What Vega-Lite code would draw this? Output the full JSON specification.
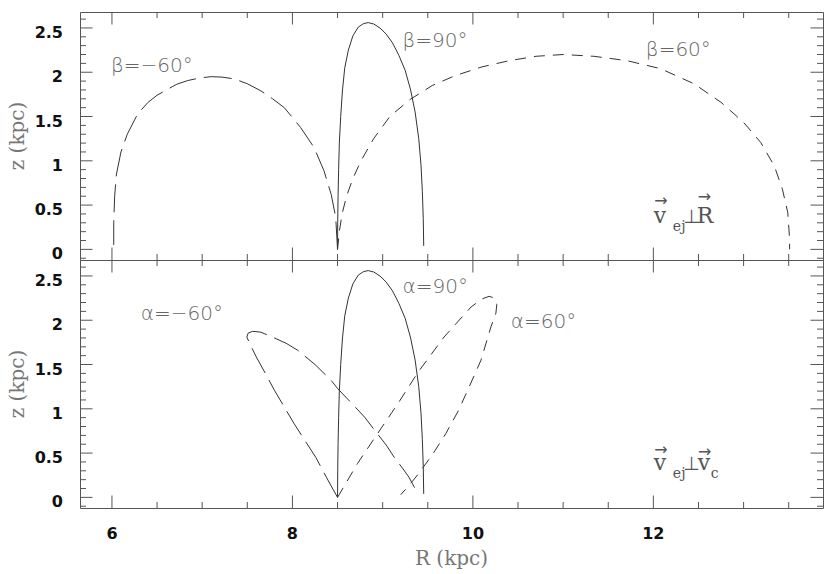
{
"$schema":"https://vega.github.io/schema/vega-lite/v6.json",
"padding":{"left":7,"top":11,"right":5,"bottom":0},
"background":"white",
"config":{
 "view":{"stroke":"#555","strokeWidth":1}
},
"datasets":{
 "b90":[{"R":8.5,"z":0},{"R":8.502,"z":0.3},{"R":8.506,"z":0.6},{"R":8.512,"z":0.9},{"R":8.52,"z":1.2},{"R":8.535,"z":1.5},{"R":8.555,"z":1.8},{"R":8.58,"z":2.05},{"R":8.62,"z":2.25},{"R":8.67,"z":2.41},{"R":8.73,"z":2.51},{"R":8.79,"z":2.55},{"R":8.84,"z":2.56},{"R":8.9,"z":2.545},{"R":8.97,"z":2.5},{"R":9.04,"z":2.43},{"R":9.11,"z":2.33},{"R":9.18,"z":2.19},{"R":9.25,"z":2.02},{"R":9.31,"z":1.8},{"R":9.36,"z":1.55},{"R":9.4,"z":1.25},{"R":9.425,"z":0.95},{"R":9.44,"z":0.65},{"R":9.45,"z":0.35},{"R":9.455,"z":0.04}],
 "bm60":[{"R":8.5,"z":0},{"R":8.48,"z":0.36},{"R":8.43,"z":0.62},{"R":8.35,"z":0.887},{"R":8.24,"z":1.15},{"R":8.09,"z":1.377},{"R":7.91,"z":1.6},{"R":7.78,"z":1.7},{"R":7.65,"z":1.79},{"R":7.5,"z":1.87},{"R":7.355,"z":1.925},{"R":7.22,"z":1.945},{"R":7.1,"z":1.95},{"R":6.97,"z":1.935},{"R":6.84,"z":1.906},{"R":6.72,"z":1.865},{"R":6.62,"z":1.81},{"R":6.5,"z":1.74},{"R":6.4,"z":1.66},{"R":6.285,"z":1.53},{"R":6.17,"z":1.3},{"R":6.1,"z":1.1},{"R":6.05,"z":0.85},{"R":6.03,"z":0.6},{"R":6.02,"z":0.3},{"R":6.02,"z":0.05}],
 "b60":[{"R":8.5,"z":0},{"R":8.52,"z":0.2},{"R":8.55,"z":0.4},{"R":8.6,"z":0.6},{"R":8.67,"z":0.8},{"R":8.76,"z":1.0},{"R":8.9,"z":1.25},{"R":9.08,"z":1.5},{"R":9.3,"z":1.69},{"R":9.55,"z":1.85},{"R":9.8,"z":1.96},{"R":10.1,"z":2.06},{"R":10.4,"z":2.13},{"R":10.7,"z":2.18},{"R":11.0,"z":2.2},{"R":11.34,"z":2.18},{"R":11.71,"z":2.13},{"R":12.08,"z":2.04},{"R":12.45,"z":1.87},{"R":12.75,"z":1.66},{"R":13.0,"z":1.434},{"R":13.19,"z":1.207},{"R":13.34,"z":0.943},{"R":13.43,"z":0.68},{"R":13.49,"z":0.414},{"R":13.51,"z":0.113},{"R":13.51,"z":0}],
 "am60":[{"R":8.5,"z":0},{"R":8.38,"z":0.22},{"R":8.26,"z":0.45},{"R":8.14,"z":0.64},{"R":8.02,"z":0.83},{"R":7.91,"z":1.02},{"R":7.8,"z":1.21},{"R":7.7,"z":1.4},{"R":7.6,"z":1.585},{"R":7.53,"z":1.73},{"R":7.495,"z":1.81},{"R":7.51,"z":1.855},{"R":7.56,"z":1.875},{"R":7.65,"z":1.865},{"R":7.8,"z":1.8},{"R":7.93,"z":1.74},{"R":8.06,"z":1.66},{"R":8.25,"z":1.5},{"R":8.43,"z":1.32},{"R":8.5,"z":1.23},{"R":8.65,"z":1.07},{"R":8.8,"z":0.906},{"R":8.94,"z":0.72},{"R":9.04,"z":0.59},{"R":9.13,"z":0.45},{"R":9.22,"z":0.33},{"R":9.29,"z":0.23},{"R":9.37,"z":0.08}],
 "a60":[{"R":8.5,"z":0},{"R":8.72,"z":0.38},{"R":8.93,"z":0.7},{"R":9.17,"z":1.06},{"R":9.39,"z":1.41},{"R":9.68,"z":1.81},{"R":9.98,"z":2.15},{"R":10.1,"z":2.24},{"R":10.18,"z":2.27},{"R":10.24,"z":2.25},{"R":10.265,"z":2.18},{"R":10.255,"z":2.08},{"R":10.2,"z":1.925},{"R":10.09,"z":1.55},{"R":9.96,"z":1.25},{"R":9.84,"z":0.98},{"R":9.7,"z":0.72},{"R":9.55,"z":0.48},{"R":9.4,"z":0.27},{"R":9.28,"z":0.12},{"R":9.2,"z":0.03}],
 "labTop":[{"R":5.99,"z":2.008,"t":"β=−60°"},{"R":9.22,"z":2.29,"t":"β=90°"},{"R":11.917,"z":2.18,"t":"β=60°"}],
 "labBot":[{"R":6.32,"z":2.0,"t":"α=−60°"},{"R":9.22,"z":2.307,"t":"α=90°"},{"R":10.42,"z":1.91,"t":"α=60°"}],
 "annTop":[{"R":12.005,"z":0.298,"t":"v","part":"main"},{"R":12.482,"z":0.298,"t":"R","part":"main"},{"R":12.33,"z":0.298,"t":"⊥","part":"perp"},{"R":12.216,"z":0.207,"t":"ej","part":"sub"},{"R":12.083,"z":0.547,"t":"→","part":"arrow"},{"R":12.565,"z":0.592,"t":"→","part":"arrow"}],
 "annBot":[{"R":12.005,"z":0.314,"t":"v","part":"main"},{"R":12.493,"z":0.314,"t":"v","part":"main"},{"R":12.33,"z":0.314,"t":"⊥","part":"perp"},{"R":12.216,"z":0.223,"t":"ej","part":"sub"},{"R":12.637,"z":0.223,"t":"c","part":"sub"},{"R":12.083,"z":0.54,"t":"→","part":"arrow"},{"R":12.57,"z":0.517,"t":"→","part":"arrow"}],
 "xt":[{"v":6,"k":"major"},{"v":6.5,"k":"minor"},{"v":7,"k":"minor"},{"v":7.5,"k":"minor"},{"v":8,"k":"major"},{"v":8.5,"k":"minor"},{"v":9,"k":"minor"},{"v":9.5,"k":"minor"},{"v":10,"k":"major"},{"v":10.5,"k":"minor"},{"v":11,"k":"minor"},{"v":11.5,"k":"minor"},{"v":12,"k":"major"},{"v":12.5,"k":"minor"},{"v":13,"k":"minor"},{"v":13.5,"k":"minor"}],
 "yt":[{"v":-0.1,"k":"minor"},{"v":0,"k":"major"},{"v":0.1,"k":"minor"},{"v":0.2,"k":"minor"},{"v":0.3,"k":"minor"},{"v":0.4,"k":"minor"},{"v":0.5,"k":"major"},{"v":0.6,"k":"minor"},{"v":0.7,"k":"minor"},{"v":0.8,"k":"minor"},{"v":0.9,"k":"minor"},{"v":1,"k":"major"},{"v":1.1,"k":"minor"},{"v":1.2,"k":"minor"},{"v":1.3,"k":"minor"},{"v":1.4,"k":"minor"},{"v":1.5,"k":"major"},{"v":1.6,"k":"minor"},{"v":1.7,"k":"minor"},{"v":1.8,"k":"minor"},{"v":1.9,"k":"minor"},{"v":2,"k":"major"},{"v":2.1,"k":"minor"},{"v":2.2,"k":"minor"},{"v":2.3,"k":"minor"},{"v":2.4,"k":"minor"},{"v":2.5,"k":"major"},{"v":2.6,"k":"minor"}],
 "ylab":[{"v":0},{"v":0.5},{"v":1},{"v":1.5},{"v":2},{"v":2.5}],
 "xlab":[{"v":6},{"v":8},{"v":10},{"v":12}],
 "ztitle":[{"t":"z (kpc)"}],
 "rtitle":[{"t":"R (kpc)"}]
},
"vconcat":[
 {
  "width":743,"height":248,
  "layer":[
   {"data":{"name":"b90"},"mark":{"type":"line","stroke":"#333","strokeWidth":1},
    "encoding":{
     "x":{"field":"R","type":"quantitative","scale":{"domain":[5.646,13.88],"nice":false,"zero":false},"axis":null},
     "y":{"field":"z","type":"quantitative","scale":{"domain":[-0.12,2.68],"nice":false,"zero":false},"axis":null},
     "order":{"value":null}}},
   {"data":{"name":"bm60"},"mark":{"type":"line","stroke":"#333","strokeWidth":1,"strokeDash":[28,8]},
    "encoding":{"x":{"field":"R","type":"quantitative","axis":null},"y":{"field":"z","type":"quantitative","axis":null},"order":{"value":null}}},
   {"data":{"name":"b60"},"mark":{"type":"line","stroke":"#333","strokeWidth":1,"strokeDash":[11,8]},
    "encoding":{"x":{"field":"R","type":"quantitative","axis":null},"y":{"field":"z","type":"quantitative","axis":null},"order":{"value":null}}},
   {"data":{"name":"labTop"},"mark":{"type":"text","font":"DejaVu Sans","fontSize":20,"fontWeight":200,"color":"#666","align":"left","baseline":"alphabetic"},
    "encoding":{"x":{"field":"R","type":"quantitative","axis":null},"y":{"field":"z","type":"quantitative","axis":null},"text":{"field":"t"}}},
   {"data":{"name":"annTop"},"transform":[{"filter":"datum.part==='main'"}],"mark":{"type":"text","font":"DejaVu Serif","fontSize":22,"color":"#555","align":"left","baseline":"alphabetic"},
    "encoding":{"x":{"field":"R","type":"quantitative","axis":null},"y":{"field":"z","type":"quantitative","axis":null},"text":{"field":"t"}}},
   {"data":{"name":"annTop"},"transform":[{"filter":"datum.part==='perp'"}],"mark":{"type":"text","font":"DejaVu Sans","fontSize":19,"color":"#555","align":"left","baseline":"alphabetic"},
    "encoding":{"x":{"field":"R","type":"quantitative","axis":null},"y":{"field":"z","type":"quantitative","axis":null},"text":{"field":"t"}}},
   {"data":{"name":"annTop"},"transform":[{"filter":"datum.part==='sub'"}],"mark":{"type":"text","font":"DejaVu Serif","fontSize":14,"color":"#555","align":"left","baseline":"alphabetic"},
    "encoding":{"x":{"field":"R","type":"quantitative","axis":null},"y":{"field":"z","type":"quantitative","axis":null},"text":{"field":"t"}}},
   {"data":{"name":"annTop"},"transform":[{"filter":"datum.part==='arrow'"}],"mark":{"type":"text","font":"DejaVu Sans","fontSize":16,"color":"#555","align":"center","baseline":"middle"},
    "encoding":{"x":{"field":"R","type":"quantitative","axis":null},"y":{"field":"z","type":"quantitative","axis":null},"text":{"field":"t"}}},
   {"data":{"name":"xt"},"mark":{"type":"tick","orient":"vertical","thickness":1,"color":"#555","opacity":1,"clip":true},
    "encoding":{"x":{"field":"v","type":"quantitative","axis":null},"y":{"datum":2.68,"type":"quantitative","axis":null},"size":{"field":"k","type":"ordinal","scale":{"domain":["minor","major"],"range":[12,25]},"legend":null}}},
   {"data":{"name":"xt"},"mark":{"type":"tick","orient":"vertical","thickness":1,"color":"#555","opacity":1,"clip":true},
    "encoding":{"x":{"field":"v","type":"quantitative","axis":null},"y":{"datum":-0.12,"type":"quantitative","axis":null},"size":{"field":"k","type":"ordinal","scale":{"domain":["minor","major"],"range":[12,25]},"legend":null}}},
   {"data":{"name":"yt"},"mark":{"type":"tick","orient":"horizontal","thickness":1,"color":"#555","opacity":1,"clip":true},
    "encoding":{"y":{"field":"v","type":"quantitative","axis":null},"x":{"datum":5.646,"type":"quantitative","axis":null},"size":{"field":"k","type":"ordinal","scale":{"domain":["minor","major"],"range":[12,24]},"legend":null}}},
   {"data":{"name":"yt"},"mark":{"type":"tick","orient":"horizontal","thickness":1,"color":"#555","opacity":1,"clip":true},
    "encoding":{"y":{"field":"v","type":"quantitative","axis":null},"x":{"datum":13.88,"type":"quantitative","axis":null},"size":{"field":"k","type":"ordinal","scale":{"domain":["minor","major"],"range":[12,24]},"legend":null}}},
   {"data":{"name":"ylab"},"mark":{"type":"text","font":"DejaVu Sans","fontWeight":"bold","fontSize":16,"color":"#111","align":"right","baseline":"middle","dx":-17,"dy":5},
    "encoding":{"y":{"field":"v","type":"quantitative","axis":null},"x":{"datum":5.646,"type":"quantitative","axis":null},"text":{"field":"v","type":"quantitative","format":"~g"}}},
   {"data":{"name":"ztitle"},"mark":{"type":"text","font":"DejaVu Serif","fontSize":20,"color":"#777","align":"center","baseline":"middle","angle":270},
    "encoding":{"x":{"datum":4.959,"type":"quantitative","scale":{"domain":[5.646,13.88],"nice":false,"zero":false},"axis":null},"y":{"datum":1.28,"type":"quantitative","scale":{"domain":[-0.12,2.68],"nice":false,"zero":false},"axis":null},"text":{"field":"t"}}}
  ]
 },
 {
  "width":743,"height":248,
  "layer":[
   {"data":{"name":"b90"},"mark":{"type":"line","stroke":"#333","strokeWidth":1},
    "encoding":{
     "x":{"field":"R","type":"quantitative","scale":{"domain":[5.646,13.88],"nice":false,"zero":false},"axis":null},
     "y":{"field":"z","type":"quantitative","scale":{"domain":[-0.12,2.68],"nice":false,"zero":false},"axis":null},
     "order":{"value":null}}},
   {"data":{"name":"am60"},"mark":{"type":"line","stroke":"#333","strokeWidth":1,"strokeDash":[28,8]},
    "encoding":{"x":{"field":"R","type":"quantitative","axis":null},"y":{"field":"z","type":"quantitative","axis":null},"order":{"value":null}}},
   {"data":{"name":"a60"},"mark":{"type":"line","stroke":"#333","strokeWidth":1,"strokeDash":[11,8]},
    "encoding":{"x":{"field":"R","type":"quantitative","axis":null},"y":{"field":"z","type":"quantitative","axis":null},"order":{"value":null}}},
   {"data":{"name":"labBot"},"mark":{"type":"text","font":"DejaVu Sans","fontSize":20,"fontWeight":200,"color":"#666","align":"left","baseline":"alphabetic"},
    "encoding":{"x":{"field":"R","type":"quantitative","axis":null},"y":{"field":"z","type":"quantitative","axis":null},"text":{"field":"t"}}},
   {"data":{"name":"annBot"},"transform":[{"filter":"datum.part==='main'"}],"mark":{"type":"text","font":"DejaVu Serif","fontSize":22,"color":"#555","align":"left","baseline":"alphabetic"},
    "encoding":{"x":{"field":"R","type":"quantitative","axis":null},"y":{"field":"z","type":"quantitative","axis":null},"text":{"field":"t"}}},
   {"data":{"name":"annBot"},"transform":[{"filter":"datum.part==='perp'"}],"mark":{"type":"text","font":"DejaVu Sans","fontSize":19,"color":"#555","align":"left","baseline":"alphabetic"},
    "encoding":{"x":{"field":"R","type":"quantitative","axis":null},"y":{"field":"z","type":"quantitative","axis":null},"text":{"field":"t"}}},
   {"data":{"name":"annBot"},"transform":[{"filter":"datum.part==='sub'"}],"mark":{"type":"text","font":"DejaVu Serif","fontSize":14,"color":"#555","align":"left","baseline":"alphabetic"},
    "encoding":{"x":{"field":"R","type":"quantitative","axis":null},"y":{"field":"z","type":"quantitative","axis":null},"text":{"field":"t"}}},
   {"data":{"name":"annBot"},"transform":[{"filter":"datum.part==='arrow'"}],"mark":{"type":"text","font":"DejaVu Sans","fontSize":16,"color":"#555","align":"center","baseline":"middle"},
    "encoding":{"x":{"field":"R","type":"quantitative","axis":null},"y":{"field":"z","type":"quantitative","axis":null},"text":{"field":"t"}}},
   {"data":{"name":"xt"},"mark":{"type":"tick","orient":"vertical","thickness":1,"color":"#555","opacity":1,"clip":true},
    "encoding":{"x":{"field":"v","type":"quantitative","axis":null},"y":{"datum":2.68,"type":"quantitative","axis":null},"size":{"field":"k","type":"ordinal","scale":{"domain":["minor","major"],"range":[12,25]},"legend":null}}},
   {"data":{"name":"xt"},"mark":{"type":"tick","orient":"vertical","thickness":1,"color":"#555","opacity":1,"clip":true},
    "encoding":{"x":{"field":"v","type":"quantitative","axis":null},"y":{"datum":-0.12,"type":"quantitative","axis":null},"size":{"field":"k","type":"ordinal","scale":{"domain":["minor","major"],"range":[12,25]},"legend":null}}},
   {"data":{"name":"yt"},"mark":{"type":"tick","orient":"horizontal","thickness":1,"color":"#555","opacity":1,"clip":true},
    "encoding":{"y":{"field":"v","type":"quantitative","axis":null},"x":{"datum":5.646,"type":"quantitative","axis":null},"size":{"field":"k","type":"ordinal","scale":{"domain":["minor","major"],"range":[12,24]},"legend":null}}},
   {"data":{"name":"yt"},"mark":{"type":"tick","orient":"horizontal","thickness":1,"color":"#555","opacity":1,"clip":true},
    "encoding":{"y":{"field":"v","type":"quantitative","axis":null},"x":{"datum":13.88,"type":"quantitative","axis":null},"size":{"field":"k","type":"ordinal","scale":{"domain":["minor","major"],"range":[12,24]},"legend":null}}},
   {"data":{"name":"ylab"},"mark":{"type":"text","font":"DejaVu Sans","fontWeight":"bold","fontSize":16,"color":"#111","align":"right","baseline":"middle","dx":-17,"dy":5},
    "encoding":{"y":{"field":"v","type":"quantitative","axis":null},"x":{"datum":5.646,"type":"quantitative","axis":null},"text":{"field":"v","type":"quantitative","format":"~g"}}},
   {"data":{"name":"ztitle"},"mark":{"type":"text","font":"DejaVu Serif","fontSize":20,"color":"#777","align":"center","baseline":"middle","angle":270},
    "encoding":{"x":{"datum":4.959,"type":"quantitative","scale":{"domain":[5.646,13.88],"nice":false,"zero":false},"axis":null},"y":{"datum":1.28,"type":"quantitative","scale":{"domain":[-0.12,2.68],"nice":false,"zero":false},"axis":null},"text":{"field":"t"}}},
   {"data":{"name":"xlab"},"mark":{"type":"text","font":"DejaVu Sans","fontWeight":"bold","fontSize":16,"color":"#111","align":"center","baseline":"top","dy":18},
    "encoding":{"x":{"field":"v","type":"quantitative","axis":null},"y":{"datum":-0.12,"type":"quantitative","axis":null},"text":{"field":"v","type":"quantitative","format":"~g"}}},
   {"data":{"name":"rtitle"},"mark":{"type":"text","font":"DejaVu Serif","fontSize":20,"color":"#777","align":"center","baseline":"top","dy":41},
    "encoding":{"x":{"datum":9.763,"type":"quantitative","axis":null},"y":{"datum":-0.12,"type":"quantitative","axis":null},"text":{"field":"t"}}}
  ]
 }
],
"spacing":0,
"bounds":"flush"
}
